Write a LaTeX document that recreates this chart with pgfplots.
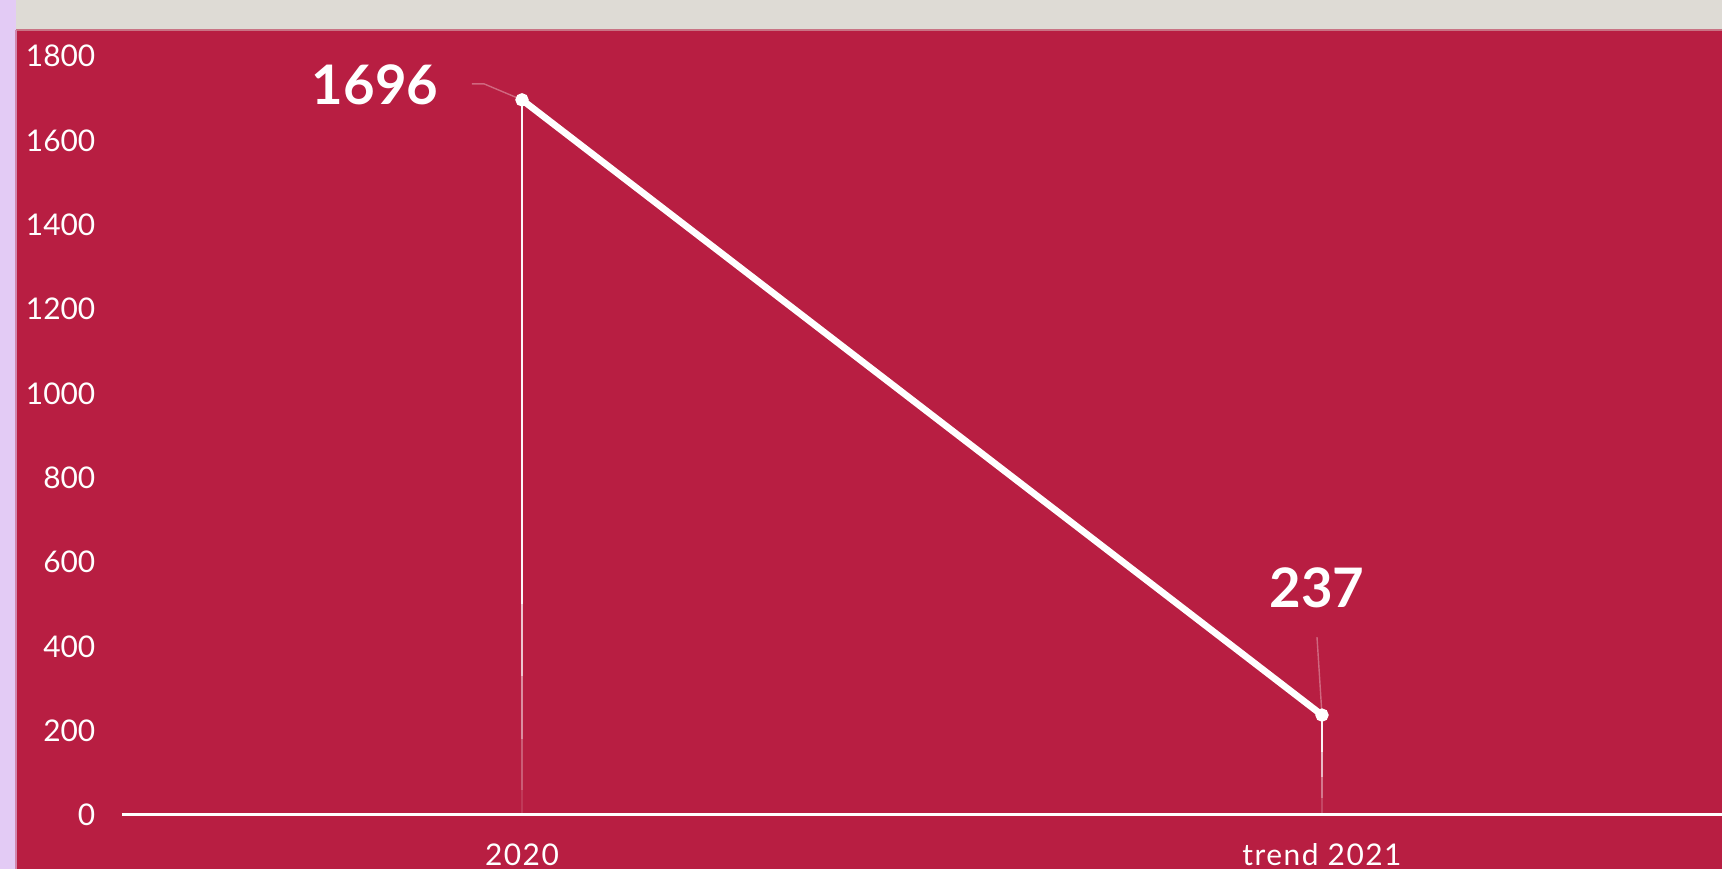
\documentclass[border=0pt]{standalone}
\usepackage{pgfplots}
\pgfplotsset{compat=1.18}
\usepackage{fontspec}
\setmainfont{Lato}
\definecolor{bgred}{HTML}{B81E42}
\definecolor{lav}{HTML}{E3CBF5}
\definecolor{topgray}{HTML}{DEDBD5}
\definecolor{leader}{HTML}{D0677F}
\begin{document}
\begin{tikzpicture}
\useasboundingbox (0,0) rectangle (17.22cm,8.69cm);
\fill[lav] (0,0) rectangle (0.16cm,8.69cm);
\fill[topgray] (0.16cm,8.39cm) rectangle (17.22cm,8.69cm);
\fill[bgred] (0.16cm,0) rectangle (17.22cm,8.39cm);
\draw[line width=0.4pt, color=bgred!55!topgray] (0.16cm,8.39cm) -- (17.22cm,8.39cm);
\draw[line width=0.4pt, color=bgred!40!lav] (0.16cm,0) -- (0.16cm,8.39cm);
\begin{axis}[
  at={(1.22cm,0.54cm)}, anchor=south west,
  scale only axis, width=16cm, height=7.59cm,
  xmin=-0.5, xmax=1.5, ymin=0, ymax=1800,
  axis x line=bottom, axis y line=left,
  y axis line style={draw=none},
  x axis line style={white, line width=0.85pt, -},
  major tick length=0pt,
  ytick={0,200,...,1800},
  xtick={0,1}, xticklabels={2020, trend 2021},
  tick label style={white, font=\fontsize{8.5}{10}\selectfont},
  yticklabel style={anchor=east, inner sep=0pt, xshift=-0.26cm},
  xticklabel style={anchor=north, inner sep=0pt, yshift=-0.28cm, font=\fontsize{8.5}{10}\selectfont\addfontfeatures{LetterSpace=5}},
  /pgf/number format/assume math mode=true,
  /pgf/number format/1000 sep={},
  clip=false,
]
% drop lines, fading towards the axis
\addplot[white, line width=0.55pt, opacity=0.97] coordinates {(0,1696) (0,500)};
\addplot[white, line width=0.55pt, opacity=0.75] coordinates {(0,500) (0,330)};
\addplot[white, line width=0.55pt, opacity=0.5] coordinates {(0,330) (0,180)};
\addplot[white, line width=0.55pt, opacity=0.28] coordinates {(0,180) (0,60)};
\addplot[white, line width=0.55pt, opacity=0.12] coordinates {(0,60) (0,0)};
\addplot[white, line width=0.5pt, opacity=0.95] coordinates {(1,237) (1,150)};
\addplot[white, line width=0.5pt, opacity=0.7] coordinates {(1,150) (1,90)};
\addplot[white, line width=0.5pt, opacity=0.4] coordinates {(1,90) (1,40)};
\addplot[white, line width=0.5pt, opacity=0.18] coordinates {(1,40) (1,0)};
% main series
\addplot[white, line width=1.9pt, line cap=round, mark=*, mark size=0.9pt, mark options={fill=white, draw=white}] coordinates {(0,1696) (1,237)};
\draw[leader, line width=0.4pt] (axis cs:0,1696) -- ++(-0.38cm,0.16cm) -- ++(-0.12cm,0pt);
\draw[leader, line width=0.4pt] (axis cs:1,237) -- ++(-0.05cm,0.78cm);
\node[white, font=\fontsize{15.5}{18}\selectfont\bfseries, anchor=east, inner sep=0pt, xshift=-0.83cm, yshift=0.15cm] at (axis cs:0,1696) {1696};
\node[white, font=\fontsize{15.5}{18}\selectfont\bfseries, anchor=center, inner sep=0pt, xshift=-0.05cm, yshift=1.27cm] at (axis cs:1,237) {237};
\end{axis}
\end{tikzpicture}
\end{document}
